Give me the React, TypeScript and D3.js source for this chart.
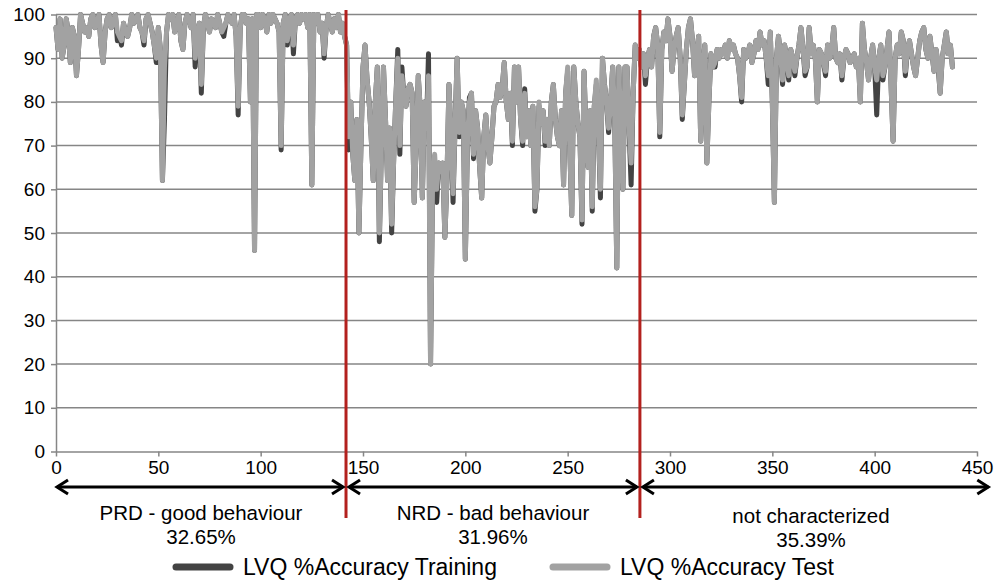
import * as d3 from 'd3';
import React from 'react';

// LVQ accuracy per sample (test set)
const testAcc: number[] = [
    97, 92, 99, 90, 93, 99, 96, 89, 97, 95,
    86, 92, 100, 98, 96, 97, 95, 99, 100, 97,
    98, 100, 93, 89, 96, 99, 100, 97, 98, 100,
    96, 95, 94, 98, 96, 95, 97, 100, 98, 99,
    100, 97, 96, 94, 99, 100, 98, 96, 93, 90,
    97, 92, 62, 88, 96, 100, 99, 100, 96, 98,
    100, 94, 92, 98, 100, 99, 97, 100, 90, 96,
    98, 84, 97, 100, 98, 96, 99, 98, 97, 100,
    98, 96, 97, 98, 100, 99, 98, 100, 95, 79,
    97, 100, 100, 98, 99, 80, 99, 46, 100, 100,
    97, 100, 99, 96, 100, 98, 100, 99, 98, 96,
    70, 98, 100, 94, 99, 100, 93, 99, 100, 98,
    100, 99, 100, 97, 100, 61, 100, 98, 100, 96,
    98, 91, 97, 100, 98, 96, 99, 97, 100, 96,
    98, 95, 93, 72, 80, 68, 62, 76, 50, 70,
    88, 93, 85, 80, 72, 62, 80, 88, 50, 70,
    88, 76, 62, 74, 52, 67, 80, 90, 70, 86,
    81, 79, 83, 84, 82, 57, 70, 86, 78, 58,
    80, 74, 86, 20, 62, 68, 60, 66, 64, 66,
    49, 62, 84, 72, 59, 75, 90, 73, 80, 78,
    44, 70, 80, 82, 68, 78, 74, 65, 58, 72,
    77, 70, 66, 72, 79, 80, 84, 81, 83, 89,
    80, 76, 82, 71, 88, 80, 88, 76, 71, 82,
    72, 78, 70, 79, 56, 60, 80, 75, 78, 71,
    76, 70, 80, 84, 76, 72, 70, 78, 61, 82,
    88, 70, 54, 88, 80, 75, 72, 53, 87, 72,
    65, 78, 56, 79, 85, 74, 60, 90, 84, 80,
    74, 80, 88, 76, 42, 88, 72, 60, 88, 88,
    74, 66, 82, 93, 90, 92, 88, 91, 86, 90,
    92, 88, 95, 97, 93, 73, 92, 96, 94, 99,
    95, 87, 92, 95, 97, 90, 77, 84, 92, 97,
    99, 94, 86, 91, 95, 71, 88, 93, 66, 80,
    91, 88, 89, 92, 90, 92, 91, 93, 90, 94,
    92, 93, 91, 90, 86, 81, 92, 90, 91, 93,
    89, 91, 94, 92, 96, 93, 94, 90, 86, 96,
    80, 57, 90, 95, 91, 85, 93, 90, 86, 92,
    90, 87, 90, 93, 97, 92, 87, 88, 97, 91,
    93, 90, 80, 92, 91, 89, 87, 93, 90, 92,
    97, 90, 89, 91, 86, 90, 92, 91, 89, 90,
    91, 88, 90, 80, 98, 92, 89, 85, 90, 93,
    88, 85, 90, 93, 86, 88, 92, 96, 84, 71,
    90, 93, 91, 96, 94, 87, 92, 94, 91, 88,
    86, 90, 94, 96, 97, 92, 90, 95, 91, 87,
    92, 89, 82, 90, 93, 96, 91, 93, 88,
];

// LVQ accuracy per sample (training set)
const trainAcc: number[] = [
    97, 92, 99, 90, 93, 99, 96, 89, 97, 95,
    86, 92, 100, 98, 96, 97, 95, 99, 100, 97,
    98, 100, 93, 89, 96, 99, 100, 97, 98, 100,
    94, 95, 93, 98, 96, 95, 97, 100, 98, 99,
    100, 97, 96, 93, 99, 100, 98, 96, 93, 89,
    97, 92, 62, 76, 96, 100, 99, 100, 96, 98,
    100, 94, 92, 98, 100, 99, 97, 100, 88, 96,
    98, 82, 97, 100, 98, 96, 99, 98, 97, 100,
    98, 96, 95, 98, 100, 99, 98, 100, 95, 77,
    97, 100, 100, 98, 99, 80, 99, 46, 100, 100,
    97, 100, 99, 96, 100, 98, 100, 99, 98, 96,
    69, 98, 100, 93, 99, 100, 91, 99, 100, 98,
    100, 99, 100, 97, 100, 61, 100, 98, 100, 96,
    98, 90, 97, 100, 98, 96, 99, 97, 100, 96,
    98, 95, 93, 69, 80, 68, 62, 76, 50, 70,
    88, 93, 85, 80, 72, 62, 80, 88, 48, 70,
    88, 76, 62, 74, 50, 67, 80, 92, 68, 88,
    81, 79, 83, 84, 82, 57, 70, 86, 78, 58,
    80, 74, 91, 20, 62, 66, 57, 66, 64, 66,
    49, 62, 84, 72, 57, 75, 90, 72, 80, 78,
    44, 70, 81, 82, 67, 78, 74, 65, 58, 72,
    77, 70, 66, 72, 79, 80, 84, 81, 83, 89,
    80, 76, 82, 70, 88, 80, 88, 76, 70, 83,
    72, 78, 70, 79, 55, 60, 79, 75, 78, 70,
    76, 70, 80, 84, 76, 72, 70, 78, 61, 82,
    87, 70, 54, 88, 80, 75, 72, 52, 87, 72,
    65, 78, 55, 79, 84, 74, 58, 90, 84, 80,
    73, 80, 88, 76, 42, 88, 72, 60, 88, 88,
    74, 61, 82, 93, 90, 92, 88, 91, 84, 90,
    92, 88, 95, 97, 93, 72, 92, 96, 94, 99,
    95, 87, 92, 95, 97, 90, 76, 84, 92, 97,
    99, 94, 86, 91, 95, 71, 88, 93, 66, 80,
    91, 88, 88, 92, 90, 92, 91, 93, 90, 94,
    92, 93, 91, 90, 86, 80, 92, 90, 91, 93,
    89, 91, 94, 92, 96, 93, 94, 90, 84, 96,
    80, 57, 90, 95, 91, 84, 93, 90, 85, 92,
    90, 86, 90, 93, 97, 92, 86, 88, 97, 91,
    93, 90, 80, 92, 91, 89, 86, 93, 90, 92,
    97, 90, 89, 91, 85, 90, 92, 91, 89, 90,
    91, 88, 90, 80, 98, 92, 89, 85, 90, 93,
    88, 77, 90, 93, 85, 88, 92, 96, 84, 71,
    90, 93, 91, 96, 94, 86, 92, 94, 91, 88,
    86, 90, 94, 96, 97, 92, 90, 95, 91, 87,
    92, 88, 82, 90, 93, 96, 91, 93, 88,
];

const xTicks = [0, 50, 100, 150, 200, 250, 300, 350, 400, 450];
const yTicks = [0, 10, 20, 30, 40, 50, 60, 70, 80, 90, 100];
// sample index where each behaviour group ends
const splits = [141.7, 285.3];
const regionNames = ['PRD - good behaviour', 'NRD - bad behaviour', 'not characterized'];
const regionShares = ['32.65%', '31.96%', '35.39%'];
const seriesNames = ['LVQ %Accuracy Training', 'LVQ %Accuracy Test'];
const seriesColors = ['#434343', '#a2a2a2'];

const FONT = '"Liberation Sans", Arial, sans-serif';

const App = (): React.ReactElement => {
    const width = 1001;
    const height = 581;
    const chartRef = React.useRef<SVGSVGElement>(null);

    React.useEffect(() => {
        const svg = d3.select(chartRef.current);
        svg.selectAll('*').remove();

        const xScale = d3.scaleLinear().domain([0, 450]).range([56, 977]);
        const yScale = d3.scaleLinear().domain([0, 100]).range([451.5, 14.5]);

        // Gridlines.
        svg.append('g')
            .selectAll('line')
            .data(yTicks.slice(1))
            .enter()
            .append('line')
            .attr('x1', xScale(0))
            .attr('x2', xScale(450))
            .attr('y1', (d) => yScale(d))
            .attr('y2', (d) => yScale(d))
            .attr('stroke', '#868686')
            .attr('stroke-width', 1.5);

        // Axes.
        const xAxis = d3.axisBottom(xScale).tickValues(xTicks).tickSize(5).tickSizeOuter(0).tickPadding(4);
        const yAxis = d3.axisLeft(yScale).tickValues(yTicks).tickSize(5).tickSizeOuter(0).tickPadding(6);
        const gx = svg.append('g').attr('transform', 'translate(0,' + yScale(0) + ')').call(xAxis);
        const gy = svg.append('g').attr('transform', 'translate(' + xScale(0) + ',0)').call(yAxis);
        [gx, gy].forEach((g) => {
            g.selectAll('path, line').attr('stroke', '#868686').attr('stroke-width', 1.5);
            g.selectAll('text').attr('fill', '#000').style('font-family', FONT).style('font-size', '19px');
        });

        // Lines: training first, test on top.
        const line = d3
            .line<number>()
            .x((_, i) => xScale(i))
            .y((d) => yScale(d));
        [trainAcc, testAcc].forEach((series, k) => {
            svg.append('path')
                .datum(series)
                .attr('d', line)
                .attr('fill', 'none')
                .attr('stroke', seriesColors[k])
                .attr('stroke-width', 5)
                .attr('stroke-linejoin', 'round')
                .attr('stroke-linecap', 'round');
        });

        // Red region dividers.
        svg.append('g')
            .selectAll('line')
            .data(splits)
            .enter()
            .append('line')
            .attr('x1', (d) => xScale(d))
            .attr('x2', (d) => xScale(d))
            .attr('y1', 10)
            .attr('y2', 518)
            .attr('stroke', '#b3211e')
            .attr('stroke-width', 3);

        // Double arrows spanning each region.
        const bounds = [0, ...splits, 457];
        const arrowY = 487;
        const arrows = svg.append('g').attr('stroke', '#000').attr('stroke-width', 3).attr('fill', 'none');
        regionNames.forEach((_, i) => {
            const x1 = xScale(bounds[i]) + (i === 0 ? 1 : 3);
            const x2 = xScale(bounds[i + 1]) - 3;
            arrows.append('line').attr('x1', x1).attr('x2', x2).attr('y1', arrowY).attr('y2', arrowY);
            arrows.append('path').attr('d', `M${x1 + 11},${arrowY - 7}L${x1},${arrowY}L${x1 + 11},${arrowY + 7}`);
            arrows.append('path').attr('d', `M${x2 - 11},${arrowY - 7}L${x2},${arrowY}L${x2 - 11},${arrowY + 7}`);
        });

        // Region labels.
        const labels = svg.append('g').style('font-family', FONT).style('font-size', '20.5px').attr('text-anchor', 'middle');
        regionNames.forEach((name, i) => {
            const cx = i === 2 ? 811 : (xScale(bounds[i]) + xScale(bounds[i + 1])) / 2;
            const dy = i === 2 ? 3 : 0;
            labels.append('text').attr('x', cx).attr('y', 520 + dy).text(name);
            labels.append('text').attr('x', cx).attr('y', 544 + dy).text(regionShares[i]);
        });

        // Legend.
        const legendX = [176, 553];
        const legend = svg.append('g').style('font-family', FONT).style('font-size', '23px');
        seriesNames.forEach((name, i) => {
            legend.append('line')
                .attr('x1', legendX[i])
                .attr('x2', legendX[i] + 54)
                .attr('y1', 567)
                .attr('y2', 567)
                .attr('stroke', seriesColors[i])
                .attr('stroke-width', 7)
                .attr('stroke-linecap', 'round');
            legend.append('text').attr('x', legendX[i] + 67).attr('y', 575).text(name);
        });
    }, [chartRef]);

    return (
        <div>
            <svg
                ref={chartRef}
                width={width}
                height={height}
                style={{ position: 'absolute', left: 0, top: 0, background: '#fff' }}
            ></svg>
        </div>
    );
};

export default App;
